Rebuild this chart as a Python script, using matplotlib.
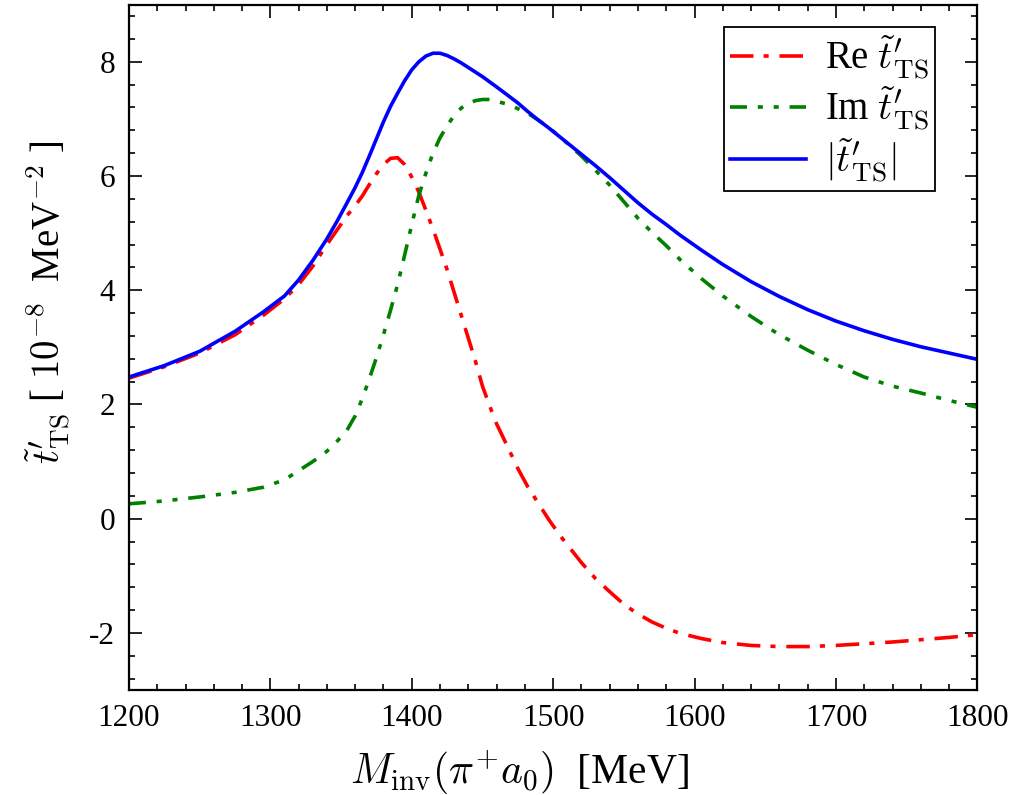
import matplotlib
matplotlib.use("Agg")
import matplotlib.pyplot as plt
from matplotlib.ticker import MultipleLocator

# invariant mass [MeV]
m_inv = [1200, 1225, 1250, 1275, 1295, 1310, 1320, 1330, 1340, 1347,
         1354, 1360, 1365, 1370, 1375, 1380, 1385, 1390, 1395, 1400,
         1405, 1410, 1415, 1420, 1425, 1430, 1435, 1440, 1445, 1450,
         1455, 1460, 1467, 1475, 1482, 1490, 1497, 1505, 1512, 1520,
         1530, 1540, 1550, 1560, 1570, 1580, 1590, 1605, 1620, 1640,
         1660, 1680, 1700, 1720, 1740, 1760, 1780, 1800]

# amplitude in units of 1e-8 MeV^-2
re_t = [2.46, 2.66, 2.90, 3.22, 3.56, 3.85, 4.10, 4.42, 4.80, 5.05,
        5.30, 5.48, 5.65, 5.85, 6.04, 6.20, 6.31, 6.32, 6.20, 5.98,
        5.72, 5.40, 5.07, 4.72, 4.36, 3.96, 3.56, 3.16, 2.76, 2.32,
        1.98, 1.66, 1.30, 0.88, 0.56, 0.25, -0.02, -0.30, -0.52, -0.77,
        -1.05, -1.28, -1.50, -1.67, -1.81, -1.92, -2.01, -2.10, -2.17, -2.22,
        -2.24, -2.24, -2.22, -2.19, -2.16, -2.12, -2.08, -2.03]
im_t = [0.26, 0.31, 0.38, 0.46, 0.55, 0.68, 0.84, 1.00, 1.18, 1.35,
        1.54, 1.80, 2.10, 2.45, 2.82, 3.22, 3.65, 4.10, 4.62, 5.15,
        5.66, 6.05, 6.40, 6.67, 6.88, 7.06, 7.19, 7.27, 7.32, 7.34,
        7.34, 7.31, 7.26, 7.18, 7.10, 6.97, 6.85, 6.68, 6.53, 6.35,
        6.10, 5.84, 5.55, 5.26, 5.01, 4.78, 4.53, 4.20, 3.90, 3.54,
        3.22, 2.95, 2.70, 2.48, 2.32, 2.20, 2.07, 1.95]
abs_t = [2.48, 2.68, 2.93, 3.28, 3.62, 3.90, 4.18, 4.52, 4.90, 5.20,
         5.52, 5.80, 6.06, 6.35, 6.65, 6.95, 7.22, 7.45, 7.67, 7.86,
         8.00, 8.10, 8.15, 8.15, 8.11, 8.05, 7.98, 7.90, 7.82, 7.74,
         7.65, 7.56, 7.43, 7.28, 7.13, 6.97, 6.84, 6.68, 6.54, 6.38,
         6.18, 5.97, 5.75, 5.53, 5.33, 5.15, 4.96, 4.70, 4.45, 4.15,
         3.89, 3.66, 3.46, 3.29, 3.14, 3.01, 2.90, 2.79]

plt.rcParams['font.family'] = ['Liberation Serif', 'DejaVu Serif']
plt.rcParams['mathtext.fontset'] = 'cm'
plt.rcParams['axes.unicode_minus'] = False
plt.rcParams['font.size'] = 22.5

fig = plt.figure(figsize=(10.35, 7.95), dpi=100)
ax = fig.add_axes([0.1246, 0.1321, 0.8197, 0.8620])

lw = 2.6
ax.plot(m_inv, re_t, color='red', lw=lw, dashes=(6.5, 2.8, 1.4, 3.0),
        label=r'Re $\tilde{t}^{\prime}_{\rm TS}$')
ax.plot(m_inv, im_t, color='green', lw=lw,
        dashes=(4.7, 3.0, 1.4, 3.0, 1.4, 3.0),
        label=r'Im $\tilde{t}^{\prime}_{\rm TS}$')
ax.plot(m_inv, abs_t, color='blue', lw=lw,
        label=r'$|\tilde{t}^{\prime}_{\rm TS}|$')

ax.set_xlim(1200, 1800)
ax.set_ylim(-3, 9)
ax.xaxis.set_major_locator(MultipleLocator(100))
ax.xaxis.set_minor_locator(MultipleLocator(20))
ax.yaxis.set_major_locator(MultipleLocator(2))
ax.yaxis.set_minor_locator(MultipleLocator(0.4))
ax.tick_params(which='both', direction='in', top=True, right=True, width=1.2)
ax.tick_params(which='major', length=9, pad=10)
ax.tick_params(which='minor', length=4.5)
for sp in ax.spines.values():
    sp.set_linewidth(1.6)

ax.set_xlabel(r'$M_{\rm inv}(\pi^{+}a_{0})$  [MeV]', fontsize=30)
ax.set_ylabel(r'$\tilde{t}^{\prime}_{\rm TS}$ [ $10^{-8}$  MeV$^{-2}$ ]',
              fontsize=28)
ax.xaxis.set_label_coords(0.46, -0.085)
ax.yaxis.set_label_coords(-0.066, 0.566)

leg = ax.legend(loc='upper right', bbox_to_anchor=(0.950, 0.9675),
                borderaxespad=0, fontsize=28, handlelength=1.95,
                handletextpad=0.5, labelspacing=0.08, borderpad=0.15,
                fancybox=False, framealpha=1, edgecolor='black')
leg.get_frame().set_linewidth(1.3)

fig.savefig('out.png', dpi=100)
